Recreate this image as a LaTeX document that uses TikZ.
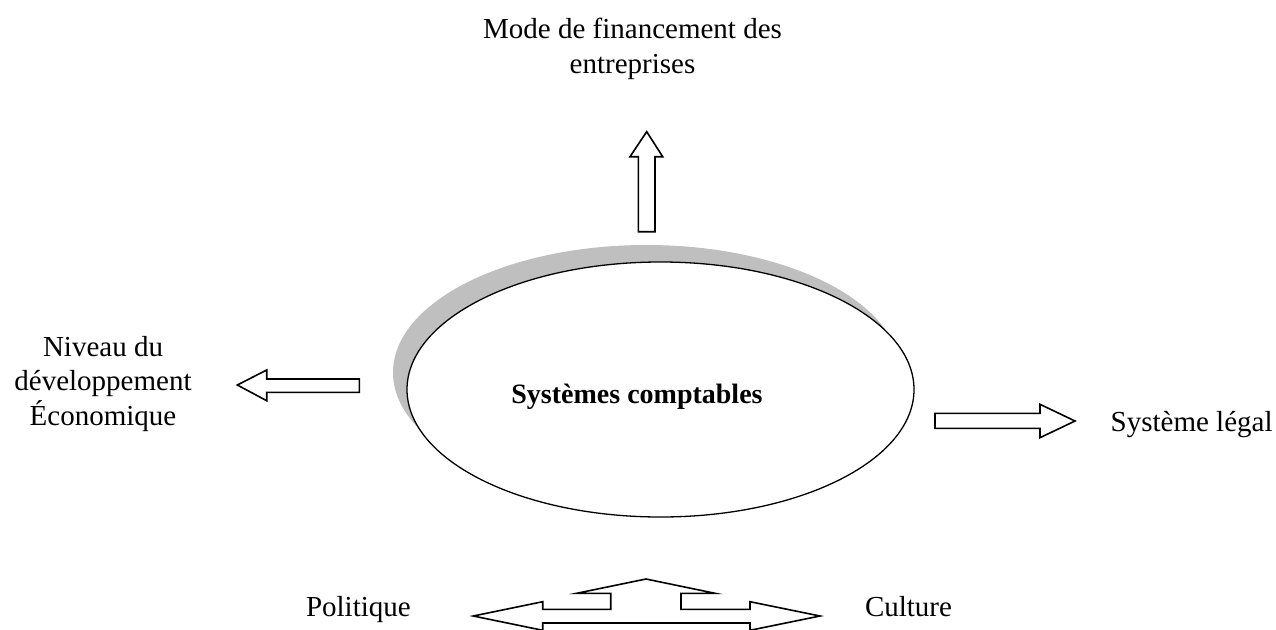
\documentclass[tikz,border=0pt]{standalone}
\usepackage{fontspec}
\setmainfont{Liberation Serif}
\usetikzlibrary{shapes.geometric}
\begin{document}
\begin{tikzpicture}[x=1pt,y=-1pt,
  lbl/.style={inner sep=0pt, outer sep=0pt, font=\fontsize{29}{34.5}\selectfont},
  blockarrow/.style={draw=black, fill=white, line width=1.6pt, line join=miter},
  oval/.style={ellipse, draw=black, fill=white, line width=1.3pt, inner sep=0pt,
               minimum width=507pt, minimum height=255pt},
  ovalshadow/.style={ellipse, fill=black!25, inner sep=0pt,
               minimum width=507pt, minimum height=255pt}]
\useasboundingbox (0,0) rectangle (1276,629);
\clip (0,0) rectangle (1276,629);

% ellipse with shadow
\node[ovalshadow] (shadow) at (646.5,372.5) {};
\node[oval] (sys) at (660.5,389.5) {};
\node[lbl, anchor=base, font=\fontsize{28}{34.5}\selectfont\bfseries] (systxt) at (637,403) {Systèmes comptables};

% labels (anchor=base refers to the last line)
\node[lbl, anchor=base, align=center] (mode) at (632.5,73) {Mode de financement des\\entreprises};
\node[lbl, anchor=base, align=center] (niveau) at (103,425) {Niveau du\\développement\\Économique};
\node[lbl, anchor=base west] (legal) at (1110.7,431.7) {Système légal};
\node[lbl, anchor=base west] (politique) at (306,616.7) {Politique};
\node[lbl, anchor=base west] (culture) at (865,616.7) {Culture};

% up arrow
\draw[blockarrow] (646.7,131.7) -- (662.7,156.7) -- (655,156.7) -- (655,231.7)
  -- (638.3,231.7) -- (638.3,156.7) -- (630,156.7) -- cycle;
% left arrow
\draw[blockarrow] (237.3,385) -- (266.7,370) -- (266.7,379) -- (359.3,379)
  -- (359.3,392.3) -- (266.7,392.3) -- (266.7,400.7) -- cycle;
% right arrow
\draw[blockarrow] (1075,421) -- (1040,404.3) -- (1040,413.3) -- (935,413.3)
  -- (935,428.3) -- (1040,428.3) -- (1040,437.7) -- cycle;
% bottom three-way arrow
\draw[blockarrow] (473.3,616) -- (542.7,601.7) -- (542.7,609.3) -- (610.7,609.3)
  -- (610.7,593.3) -- (576.7,593.3) -- (646,579) -- (715,593.3) -- (681,593.3)
  -- (681,609.3) -- (750,609.3) -- (750,601.7) -- (820,616) -- (750,630.3)
  -- (750,623) -- (542.7,623) -- (542.7,630.3) -- cycle;
\end{tikzpicture}
\end{document}
